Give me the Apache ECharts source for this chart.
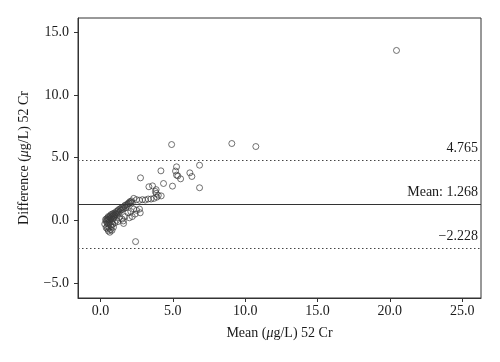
<!DOCTYPE html>
<html><head><meta charset="utf-8">
<script src="https://cdn.jsdelivr.net/npm/echarts@6/dist/echarts.min.js"></script>
<style>html,body{margin:0;padding:0;background:#fff}#c{width:500px;height:362px}</style>
</head><body><div id="c"></div>
<script>
// Scatter data: [mean, difference]
const points = [
[0.35,0.05],[0.4,-0.1],[0.42,0.12],[0.45,0.0],[0.48,-0.2],[0.5,0.2],[0.52,0.05],[0.55,-0.3],[0.55,0.3],[0.58,0.1],
[0.6,-0.15],[0.62,0.25],[0.65,0.0],[0.68,0.35],[0.7,-0.4],[0.7,0.15],[0.72,0.45],[0.75,0.2],[0.78,-0.1],[0.8,0.3],
[0.82,0.5],[0.85,0.1],[0.88,0.4],[0.9,0.55],[0.92,0.25],[0.95,0.45],[1.0,0.6],[1.0,0.35],[1.05,0.5],[1.1,0.7],
[1.12,0.45],[1.15,0.6],[1.2,0.75],[1.22,0.5],[1.25,0.85],[1.3,0.65],[1.35,0.9],[1.4,0.8],[1.45,1.0],[1.5,0.85],
[1.55,1.05],[1.6,0.95],[1.65,1.1],[1.7,1.2],[1.75,1.0],[1.8,1.25],[1.85,1.15],[1.9,1.3],[1.95,1.4],[2.0,1.35],
[2.05,1.5],[2.1,1.45],[2.15,1.55],[2.2,1.4],
[0.45,-0.5],[0.5,-0.7],[0.55,-0.85],[0.6,-0.6],[0.7,-0.75],[0.75,-0.5],[0.85,-0.3],[0.9,-0.55],[1.0,-0.2],[1.1,0.0],
[1.3,0.2],[1.5,0.1],[1.58,-0.05],[1.6,-0.25],[1.7,0.3],[1.9,0.6],[2.1,0.7],[2.3,0.9],[2.5,0.8],[2.7,0.9],
[2.75,0.6],[2.4,0.5],[2.2,0.3],[2.0,0.2],[0.3,-0.3],[0.4,-0.6],[0.65,-0.95],[0.8,-0.8],[1.2,-0.1],
[2.3,1.75],[2.5,1.65],[2.7,1.6],[2.9,1.65],[3.1,1.62],[3.3,1.7],[3.5,1.7],[3.7,1.75],[3.9,1.85],[4.0,2.0],
[4.2,1.95],[3.85,2.15],[3.85,2.45],[3.8,2.3],
[2.43,-1.7],[2.77,3.39],[3.35,2.68],[3.6,2.75],[4.18,3.95],[4.36,2.94],[4.98,2.73],[4.92,6.05],[5.26,4.27],[5.19,3.93],
[5.26,3.61],[5.35,3.55],[5.54,3.31],[6.18,3.79],[6.32,3.50],[6.85,4.40],[6.85,2.60],[9.08,6.13],[10.74,5.89],[20.46,13.56]
];
const meanDiff = 1.268;
const upperLoA = 4.765;
const lowerLoA = -2.228;
const xTicks = [0, 5, 10, 15, 20, 25];
const yTicks = [-5, 0, 5, 10, 15];

const serif = '"Liberation Serif", "DejaVu Serif", serif';
const fmt = v => v.toFixed(1).replace('-', '\u2212');
const chart = echarts.init(document.getElementById('c'));
chart.setOption({
  animation: false,
  grid: {left: 78, top: 18, right: 19, bottom: 64, show: true, borderColor: '#333', borderWidth: 1},
  xAxis: {
    type: 'value', min: -1.55, max: 26.3,
    name: 'Mean ({i|\u03bc}g/L) 52 Cr', nameLocation: 'middle', nameGap: 28,
    nameTextStyle: {fontFamily: serif, fontSize: 14, color: '#1a1a1a', rich: {i: {fontFamily: serif, fontSize: 14, fontStyle: 'italic', color: '#1a1a1a'}}},
    axisLine: {show: true, onZero: false, lineStyle: {color: '#333', width: 1}},
    axisTick: {show: true, length: 4, customValues: xTicks, lineStyle: {color: '#333'}},
    axisLabel: {customValues: xTicks, formatter: fmt, fontFamily: serif, fontSize: 14, color: '#1a1a1a', margin: 6},
    splitLine: {show: false}
  },
  yAxis: {
    type: 'value', min: -6.2, max: 16.15,
    name: 'Difference ({i|\u03bc}g/L) 52 Cr', nameLocation: 'middle', nameGap: 47,
    nameTextStyle: {fontFamily: serif, fontSize: 14, color: '#1a1a1a', rich: {i: {fontFamily: serif, fontSize: 14, fontStyle: 'italic', color: '#1a1a1a'}}},
    axisLine: {show: true, onZero: false, lineStyle: {color: '#333', width: 1}},
    axisTick: {show: true, length: 4, customValues: yTicks, lineStyle: {color: '#333'}},
    axisLabel: {customValues: yTicks, formatter: fmt, fontFamily: serif, fontSize: 14, color: '#1a1a1a', margin: 9},
    splitLine: {show: false}
  },
  series: [{
    type: 'scatter',
    data: points,
    symbol: 'circle',
    symbolSize: 6,
    itemStyle: {color: 'rgba(0,0,0,0)', borderColor: '#3a3a3a', borderWidth: 0.9},
    markLine: {
      silent: true, symbol: 'none',
      label: {position: 'insideEndTop', fontFamily: serif, fontSize: 14, color: '#1a1a1a', distance: [3, 5]},
      data: [
        {yAxis: upperLoA, lineStyle: {type: [1.5, 2.5], color: '#444', width: 1}, label: {formatter: '4.765'}},
        {yAxis: meanDiff, lineStyle: {type: 'solid', color: '#333', width: 1}, label: {formatter: 'Mean: 1.268'}},
        {yAxis: lowerLoA, lineStyle: {type: [1.5, 2.5], color: '#444', width: 1}, label: {formatter: '\u22122.228'}}
      ]
    }
  }]
});
</script></body></html>
